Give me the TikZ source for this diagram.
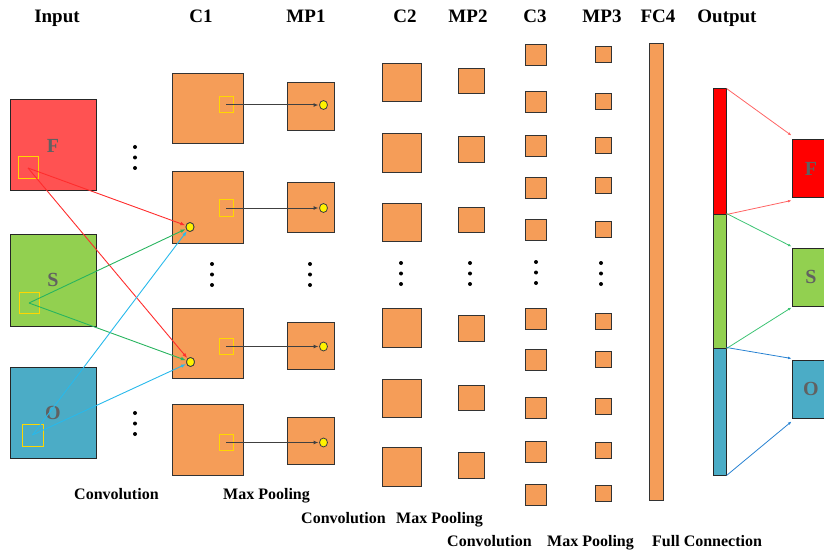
\documentclass[tikz,border=0pt]{standalone}
\usepackage{fontspec}
\setmainfont{Liberation Serif}
\usetikzlibrary{arrows.meta,shapes.geometric}

\definecolor{fmorange}{RGB}{245,157,88}
\definecolor{inred}{RGB}{255,82,82}
\definecolor{ingreen}{RGB}{146,208,80}
\definecolor{inblue}{RGB}{75,172,198}
\definecolor{rfyellow}{RGB}{255,215,0}
\definecolor{arred}{RGB}{255,45,45}
\definecolor{argreen}{RGB}{40,180,95}
\definecolor{arblue}{RGB}{40,185,235}
\definecolor{outred}{RGB}{255,100,100}
\definecolor{outgreen}{RGB}{60,195,115}
\definecolor{outblue}{RGB}{40,130,210}

\tikzset{
  fmap/.style={draw=black!80, line width=1pt, fill=fmorange, inner sep=0pt},
  inbox/.style={draw=black!85, line width=1pt, inner sep=0pt,
    font=\bfseries\fontsize{20}{20}\selectfont, text=black!62},
  rfield/.style={draw=rfyellow, line width=1pt, inner sep=0pt},
  pdot/.style={ellipse, draw=black!75, fill=yellow, line width=0.8pt,
    minimum width=8pt, minimum height=9pt, inner sep=0pt},
  inarrow/.style={-{Latex[length=5pt,width=3.6pt]}, line width=0.9pt, shorten >=0.5pt},
  poolarrow/.style={-{Latex[length=5pt,width=4pt]}, draw=black!75, line width=1pt, shorten >=5pt},
  outarrow/.style={-{Latex[length=3.5pt,width=2.8pt]}, line width=0.8pt},
  head/.style={anchor=base, inner sep=0pt, font=\bfseries\fontsize{19}{19}\selectfont},
  foot/.style={anchor=base west, inner sep=0pt, font=\bfseries\fontsize{16}{16}\selectfont},
  vdots/.style={fill=black}
}

\begin{document}
\begin{tikzpicture}[x=1pt,y=-1pt]
\useasboundingbox (0,0) rectangle (824,556);

% column headings
\node[head] (hIn)  at (57,23)  {Input};
\node[head] (hC1)  at (201,23) {C1};
\node[head] (hMP1) at (306,23) {MP1};
\node[head] (hC2)  at (405,23) {C2};
\node[head] (hMP2) at (468,23) {MP2};
\node[head] (hC3)  at (535,23) {C3};
\node[head] (hMP3) at (602,23) {MP3};
\node[head] (hFC)  at (658,23) {FC4};
\node[head] (hOut) at (727,23) {Output};

% input channels
\node[inbox, fill=inred,   minimum width=86pt, minimum height=91pt] (inF) at (53,145.5) {F};
\node[inbox, fill=ingreen, minimum width=86pt, minimum height=92pt] (inS) at (53,280)   {S};
\node[inbox, fill=inblue,  minimum width=86pt, minimum height=91pt] (inO) at (53,412.5) {O};
\node[rfield, minimum width=20pt, minimum height=22pt] (rfF) at (28,168) {};
\node[rfield, minimum width=20pt, minimum height=21pt] (rfS) at (29,303) {};
\node[rfield, minimum width=21pt, minimum height=22pt] (rfO) at (32.5,435) {};

% C1 feature maps
\node[fmap, minimum width=71pt, minimum height=70pt] (c1-1) at (207.5,109)   {};
\node[fmap, minimum width=71pt, minimum height=71pt] (c1-2) at (207.5,207.5) {};
\node[fmap, minimum width=71pt, minimum height=70pt] (c1-3) at (207.5,343)   {};
\node[fmap, minimum width=71pt, minimum height=71pt] (c1-4) at (207.5,439.5) {};

% MP1 feature maps
\node[fmap, minimum width=47pt, minimum height=48pt] (mp1-1) at (310.5,107)   {};
\node[fmap, minimum width=47pt, minimum height=49pt] (mp1-2) at (310.5,207.5) {};
\node[fmap, minimum width=47pt, minimum height=47pt] (mp1-3) at (310.5,345.5) {};
\node[fmap, minimum width=47pt, minimum height=47pt] (mp1-4) at (310.5,440.5) {};

% pooling windows in C1 and their pooled outputs in MP1
\foreach \i/\y in {1/105,2/208,3/346.5,4/442.5}{
  \node[rfield, minimum width=14pt, minimum height=16pt] (pw-\i) at (226,\y) {};
  \node[pdot] (pd-\i) at (323.5,\y) {};
  \draw[poolarrow] (pw-\i.center) -- (pd-\i.center);
}

% convolution outputs in C1
\node[pdot] (cd-1) at (190,227) {};
\node[pdot] (cd-2) at (190.5,362) {};

% C2, MP2, C3, MP3
\foreach \y [count=\i] in {82.5,153,222.5,328,398.5,467}
  \node[fmap, minimum width=39pt, minimum height=38.5pt] (c2-\i) at (401.5,\y) {};
\foreach \y [count=\i] in {81,149.5,220,328.5,398,465.5}
  \node[fmap, minimum width=26pt, minimum height=25.5pt] (mp2-\i) at (471,\y) {};
\foreach \y [count=\i] in {55,102,146.5,188,230,319,360,407.5,451.5,494.5}
  \node[fmap, minimum width=21pt, minimum height=21pt] (c3-\i) at (535.5,\y) {};
\foreach \y [count=\i] in {55,102,146,186,229.5,321.5,359.5,406,450,493.5}
  \node[fmap, minimum width=16pt, minimum height=16pt] (mp3-\i) at (603,\y) {};

% FC4
\node[fmap, minimum width=14pt, minimum height=456pt] (fc4) at (656,272) {};

% output vector
\node[inbox, fill=red,     minimum width=13pt, minimum height=125pt] (oR) at (719.5,151.5) {};
\node[inbox, fill=ingreen, minimum width=13pt, minimum height=134pt] (oG) at (719.5,281)   {};
\node[inbox, fill=inblue,  minimum width=13pt, minimum height=127pt] (oB) at (719.5,411.5) {};

% output classes
\node[inbox, fill=red,     minimum width=38pt, minimum height=58pt] (outF) at (811,169) {F};
\node[inbox, fill=ingreen, minimum width=38pt, minimum height=58pt] (outS) at (811,277) {S};
\node[inbox, fill=inblue,  minimum width=38pt, minimum height=58pt] (outO) at (811,389) {O};

% convolution connections
\draw[inarrow, draw=arred]   (rfF.center) -- (cd-1);
\draw[inarrow, draw=arred]   (rfF.center) -- (cd-2);
\draw[inarrow, draw=argreen] (rfS.center) -- (cd-1);
\draw[inarrow, draw=argreen] (rfS.center) -- (cd-2);
\draw[inarrow, draw=arblue]  (rfO.center) -- (cd-1);
\draw[inarrow, draw=arblue]  (rfO.center) -- (cd-2);
\node[pdot] at (cd-1) {};
\node[pdot] at (cd-2) {};

% full connection to the outputs
\draw[outarrow, draw=outred]   (oR.north east) -- ([yshift=4pt]outF.north west);
\draw[outarrow, draw=outred]   (oR.south east) -- ([yshift=-2pt]outF.south west);
\draw[outarrow, draw=outgreen] (oG.north east) -- ([yshift=1pt]outS.north west);
\draw[outarrow, draw=outgreen] (oG.south east) -- ([yshift=-1pt]outS.south west);
\draw[outarrow, draw=outblue]  (oB.north east) -- ([yshift=1pt]outO.north west);
\draw[outarrow, draw=outblue]  (oB.south east) -- ([yshift=-3pt]outO.south west);

% ellipsis marks
\foreach \x/\y in {135/147,135/413,212/264,310/264,401/263,470/263,536/262,601/263}
  \foreach \d in {0,10.5,21}
    \fill[vdots] (\x,\y+\d) circle[radius=2pt];

% layer operations
\node[foot] (l1) at (74,499)  {Convolution};
\node[foot] (l2) at (223,499) {Max Pooling};
\node[foot] (l3) at (301,523) {Convolution};
\node[foot] (l4) at (396,523) {Max Pooling};
\node[foot] (l5) at (447,546) {Convolution};
\node[foot] (l6) at (547,546) {Max Pooling};
\node[foot] (l7) at (652,546) {Full Connection};
\end{tikzpicture}
\end{document}
